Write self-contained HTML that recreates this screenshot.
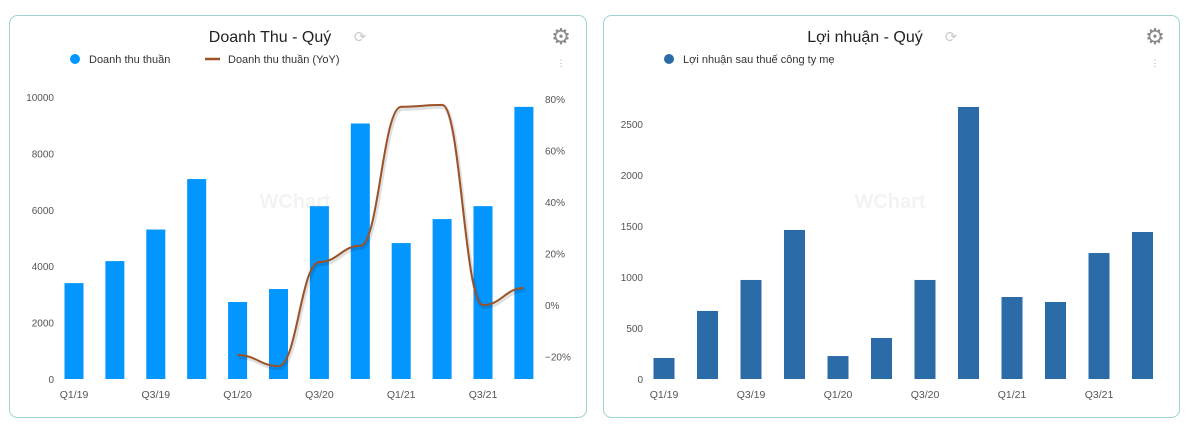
<!DOCTYPE html>
<html><head><meta charset="utf-8"><style>
body{margin:0;width:1190px;height:425px;background:#fff;font-family:"Liberation Sans",sans-serif;overflow:hidden}
svg{position:absolute;left:0;top:0}
</style></head><body>
<svg id="s" width="1190" height="425" xmlns="http://www.w3.org/2000/svg">
<rect x="9.5" y="15.5" width="577" height="402" rx="8" fill="#fff" stroke="#9fd4d4"/>
<rect x="603.5" y="15.5" width="576" height="402" rx="8" fill="#fff" stroke="#9fd4d4"/>
<text x="270" y="42" font-size="16" fill="#222" text-anchor="middle">Doanh Thu - Quý</text>
<text x="360" y="42" font-size="15" fill="#ccc" text-anchor="middle">⟳</text>
<text x="561" y="44" font-size="22" fill="#888" text-anchor="middle">⚙</text>
<text x="561" y="66" font-size="9" fill="#aaa" text-anchor="middle">⋮</text>
<circle cx="75" cy="59" r="5" fill="#0396ff"/>
<text x="89" y="63" font-size="11" fill="#333">Doanh thu thuần</text>
<line x1="205" y1="59" x2="220" y2="59" stroke="#9c5227" stroke-width="2.5"/>
<text x="228" y="63" font-size="11" fill="#333">Doanh thu thuần (YoY)</text>
<text x="865" y="42" font-size="16" fill="#222" text-anchor="middle">Lợi nhuận - Quý</text>
<text x="951" y="42" font-size="15" fill="#ccc" text-anchor="middle">⟳</text>
<text x="1155" y="44" font-size="22" fill="#888" text-anchor="middle">⚙</text>
<text x="1155" y="66" font-size="9" fill="#aaa" text-anchor="middle">⋮</text>
<circle cx="669" cy="59" r="5" fill="#2b6ba8"/>
<text x="683" y="63" font-size="11" fill="#333">Lợi nhuận sau thuế công ty mẹ</text>
<text x="295" y="208" font-size="20" fill="#f3f3f3" text-anchor="middle" font-weight="bold">WChart</text>
<text x="890" y="208" font-size="20" fill="#f3f3f3" text-anchor="middle" font-weight="bold">WChart</text>
<g id="L"></g><g id="R"></g>
</svg>
<script>
const cats=["Q1/19","Q2/19","Q3/19","Q4/19","Q1/20","Q2/20","Q3/20","Q4/20","Q1/21","Q2/21","Q3/21","Q4/21"];
const revenue=[3400,4180,5300,7090,2730,3190,6130,9060,4820,5670,6130,9650];
const yoy=[null,null,null,null,-19.4,-23.7,16.7,23,77,77.7,0,6.6];
const revTicks=[0,2000,4000,6000,8000,10000];
const yoyTicks=[-20,0,20,40,60,80];
const profit=[206,667,971,1461,225,402,971,2667,804,755,1235,1441];
const profTicks=[0,500,1000,1500,2000,2500];
const NS="http://www.w3.org/2000/svg";
function mk(p,t,a){const e=document.createElementNS(NS,t);for(const k in a)e.setAttribute(k,a[k]);p.appendChild(e);return e;}
const L=document.getElementById('L'),R=document.getElementById('R');
const xL=i=>74+i*40.9, yL=v=>379-v*0.0282, yY=v=>305-v*2.575;
revTicks.forEach(t=>{const e=mk(L,'text',{x:54,y:yL(t)+4,'font-size':10,fill:'#555','text-anchor':'end'});e.textContent=t;

});
yoyTicks.forEach(t=>{const e=mk(L,'text',{x:545,y:yY(t)+4,'font-size':10,fill:'#555'});e.textContent=(t<0?'−':'')+Math.abs(t)+'%';

});
revenue.forEach((v,i)=>{const e=mk(L,'rect',{x:xL(i)-9.5,y:yL(v),width:19,height:379-yL(v),fill:'#0396ff'});

});
cats.forEach((c,i)=>{if(i%2)return;const e=mk(L,'text',{x:xL(i),y:398,'font-size':10.5,fill:'#555','text-anchor':'middle'});e.textContent=c;

});
const pts=[];yoy.forEach((v,i)=>{if(v!==null)pts.push([xL(i),yY(v)]);});
let d='M'+pts[0][0]+','+pts[0][1];
for(let i=0;i<pts.length-1;i++){const p=pts[i],q=pts[i+1],dx=(q[0]-p[0])*0.45;d+=` C${p[0]+dx},${p[1]} ${q[0]-dx},${q[1]} ${q[0]},${q[1]}`;}
const sh=mk(L,'path',{d:d,fill:'none',stroke:'rgba(0,0,0,0.12)','stroke-width':4,transform:'translate(1,2)'});


const ln=mk(L,'path',{d:d,fill:'none',stroke:'#9c5227','stroke-width':2});


const xR=i=>664+i*43.5, yR=v=>379-v*0.102;
profTicks.forEach(t=>{const e=mk(R,'text',{x:643,y:yR(t)+4,'font-size':10,fill:'#555','text-anchor':'end'});e.textContent=t;

});
profit.forEach((v,i)=>{const e=mk(R,'rect',{x:xR(i)-10.5,y:yR(v),width:21,height:379-yR(v),fill:'#2b6ba8'});

});
cats.forEach((c,i)=>{if(i%2)return;const e=mk(R,'text',{x:xR(i),y:398,'font-size':10.5,fill:'#555','text-anchor':'middle'});e.textContent=c;

});
</script>
</body></html>
